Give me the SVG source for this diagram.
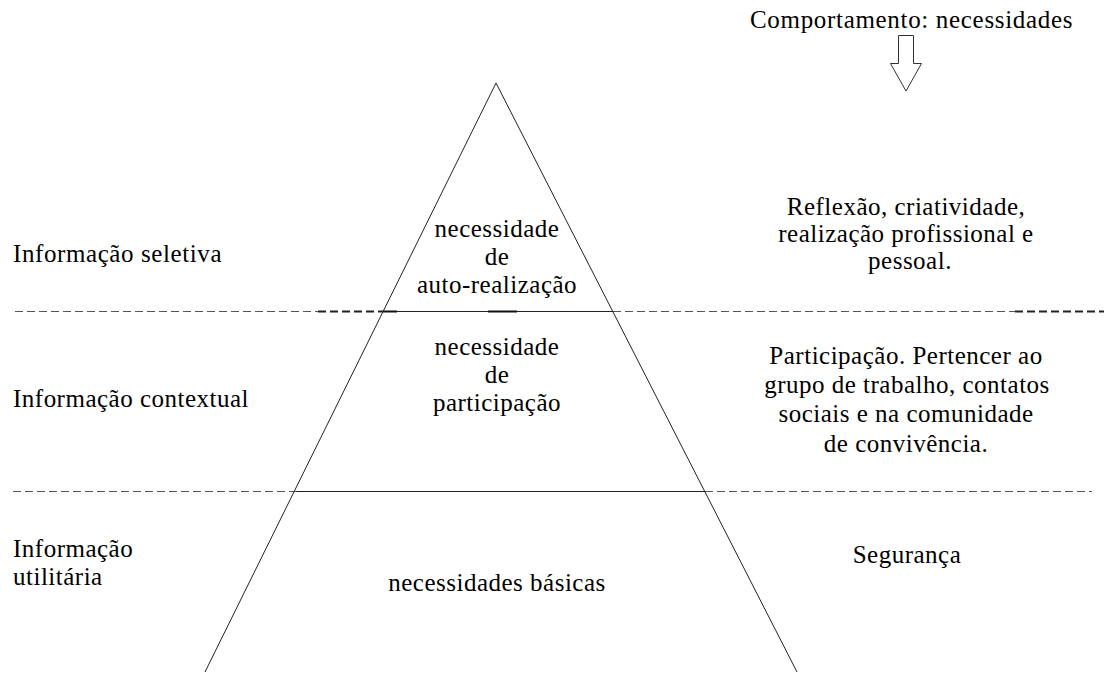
<svg xmlns="http://www.w3.org/2000/svg" width="1106" height="675" viewBox="0 0 1106 675" font-family="Liberation Serif, serif">
<style>
text{font-family:"Liberation Serif","Times New Roman",serif;font-size:25px;fill:#000;letter-spacing:0.5px}
.c{text-anchor:middle}
.dash{stroke:#555;stroke-width:1;stroke-dasharray:8 4;fill:none}
.dashb{stroke:#222;stroke-width:2;stroke-dasharray:8 4;fill:none}
.solid{stroke:#222;stroke-width:1;fill:none}
.thick{stroke:#111;stroke-width:2;fill:none}
</style>
<rect width="1106" height="675" fill="#fff"/>
<g id="dividers">
<line class="dash" x1="15" y1="311.5" x2="318" y2="311.5"/>
<line class="dashb" x1="318" y1="311.5" x2="384" y2="311.5"/>
<line class="solid" x1="384" y1="311.5" x2="613" y2="311.5"/>
<line class="thick" x1="384" y1="311.5" x2="397" y2="311.5"/>
<line class="thick" x1="488" y1="311.5" x2="517" y2="311.5"/>
<line class="dash" x1="613" y1="311.5" x2="1015" y2="311.5"/>
<line class="dashb" x1="1015" y1="311.5" x2="1104" y2="311.5"/>
<line class="dash" x1="13" y1="491.5" x2="296" y2="491.5"/>
<line class="solid" x1="296" y1="491.5" x2="705" y2="491.5"/>
<line class="dash" x1="705" y1="491.5" x2="1092" y2="491.5"/>
</g>
<g id="pyramid">
<polyline class="solid" points="205,672 496,83 797,672"/>
</g>
<g id="level-top">
<text class="c" x="497" y="237">necessidade</text>
<text class="c" x="497" y="265">de</text>
<text class="c" x="497" y="293">auto-realização</text>
</g>
<g id="level-mid">
<text class="c" x="497" y="355">necessidade</text>
<text class="c" x="497" y="383">de</text>
<text class="c" x="497" y="411">participação</text>
</g>
<g id="level-base">
<text class="c" x="497" y="591">necessidades básicas</text>
</g>
<g id="label-seletiva">
<text x="13" y="262" textLength="209">Informação seletiva</text>
</g>
<g id="label-contextual">
<text x="13" y="407" textLength="236">Informação contextual</text>
</g>
<g id="label-utilitaria">
<text x="13" y="557">Informação</text>
<text x="13" y="585">utilitária</text>
</g>
<g id="header">
<text x="750" y="28" textLength="323">Comportamento: necessidades</text>
</g>
<g id="desc-top">
<text class="c" x="906" y="215">Reflexão, criatividade,</text>
<text class="c" x="906" y="242">realização profissional e</text>
<text class="c" x="910" y="269">pessoal.</text>
</g>
<g id="desc-mid">
<text class="c" x="906" y="364">Participação. Pertencer ao</text>
<text class="c" x="907" y="393">grupo de trabalho, contatos</text>
<text class="c" x="906" y="422">sociais e na comunidade</text>
<text class="c" x="906" y="452">de convivência.</text>
</g>
<g id="desc-base">
<text class="c" x="907" y="563">Segurança</text>
</g>
<g id="connectors">
<polygon points="898.5,35.5 913.5,35.5 913.5,63.5 921.5,63.5 906,91 890.5,63.5 898.5,63.5" fill="#fff" stroke="#333" stroke-width="1"/>
</g>
</svg>
